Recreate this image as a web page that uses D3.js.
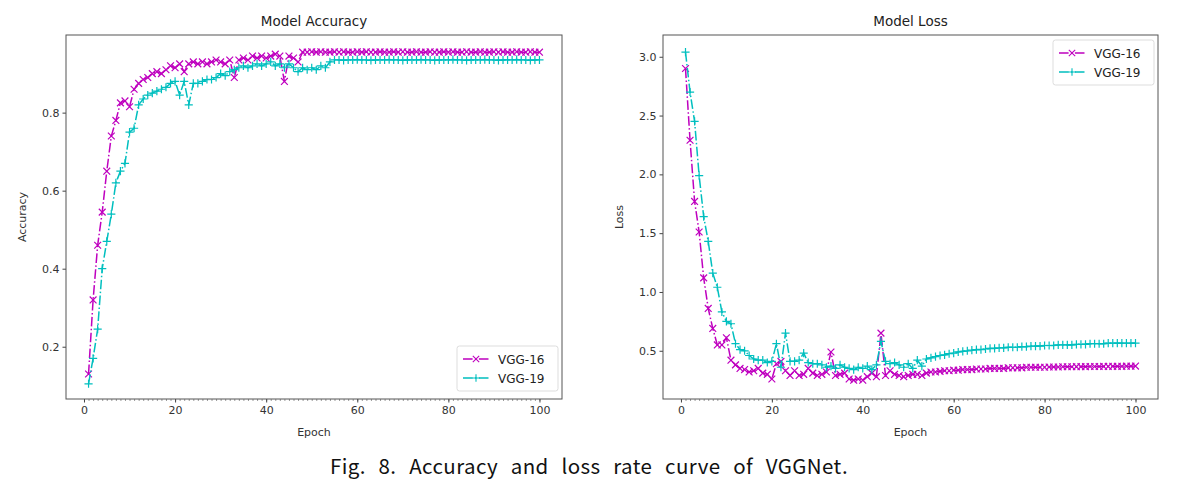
<!DOCTYPE html>
<html><head><meta charset="utf-8">
<script src="https://cdn.jsdelivr.net/npm/d3@7"></script>
<style>body{margin:0;background:#fff}svg{display:block}</style>
</head><body>
<svg id="chart" width="1179" height="485"></svg>
<script>
const epochs = d3.range(1, 101);
const seriesNames = ["VGG-16", "VGG-19"];
const accVGG16 = [0.13,0.32,0.46,0.545,0.65,0.74,0.78,0.825,0.83,0.815,
0.86,0.875,0.885,0.89,0.9,0.905,0.9,0.91,0.92,0.915,
0.925,0.905,0.925,0.93,0.925,0.93,0.925,0.93,0.935,0.93,
0.925,0.935,0.89,0.935,0.94,0.935,0.945,0.94,0.945,0.94,
0.945,0.95,0.945,0.88,0.945,0.94,0.93,0.955,0.955,0.956,
0.955,0.956,0.955,0.955,0.956,0.955,0.956,0.955,0.955,0.956,
0.955,0.956,0.955,0.955,0.956,0.955,0.955,0.956,0.955,0.956,
0.955,0.955,0.956,0.955,0.955,0.956,0.955,0.955,0.956,0.955,
0.956,0.955,0.955,0.956,0.955,0.955,0.956,0.955,0.955,0.956,
0.955,0.956,0.955,0.955,0.956,0.955,0.955,0.956,0.955,0.955];
const accVGG19 = [0.105,0.17,0.245,0.4,0.47,0.54,0.62,0.65,0.67,0.75,
0.76,0.82,0.835,0.845,0.85,0.855,0.86,0.865,0.875,0.88,
0.845,0.88,0.82,0.875,0.875,0.88,0.885,0.885,0.89,0.9,
0.895,0.905,0.91,0.915,0.92,0.915,0.92,0.925,0.92,0.925,
0.93,0.92,0.925,0.915,0.925,0.915,0.905,0.915,0.91,0.915,
0.91,0.92,0.915,0.93,0.935,0.935,0.934,0.935,0.935,0.936,
0.935,0.935,0.934,0.935,0.935,0.935,0.936,0.935,0.935,0.934,
0.935,0.935,0.935,0.936,0.935,0.935,0.934,0.935,0.935,0.935,
0.936,0.935,0.935,0.934,0.935,0.935,0.935,0.936,0.935,0.935,
0.934,0.935,0.935,0.935,0.936,0.935,0.935,0.934,0.935,0.935];
const lossVGG16 = [2.9,2.29,1.77,1.51,1.12,0.86,0.69,0.55,0.55,0.61,
0.42,0.38,0.35,0.34,0.32,0.33,0.35,0.31,0.3,0.26,
0.39,0.41,0.33,0.29,0.33,0.29,0.3,0.35,0.31,0.29,
0.3,0.32,0.49,0.29,0.3,0.31,0.26,0.25,0.26,0.25,
0.28,0.31,0.28,0.65,0.29,0.33,0.3,0.29,0.28,0.29,
0.3,0.3,0.29,0.31,0.32,0.32,0.325,0.33,0.33,0.335,
0.335,0.34,0.34,0.34,0.345,0.345,0.345,0.35,0.35,0.35,
0.35,0.355,0.355,0.355,0.355,0.36,0.36,0.36,0.36,0.36,
0.362,0.362,0.362,0.364,0.364,0.364,0.365,0.365,0.365,0.366,
0.366,0.366,0.367,0.367,0.368,0.368,0.368,0.369,0.369,0.37];
const lossVGG19 = [3.04,2.7,2.45,1.99,1.64,1.43,1.16,1.04,0.83,0.75,
0.73,0.56,0.51,0.5,0.46,0.43,0.42,0.42,0.4,0.41,
0.56,0.36,0.65,0.41,0.41,0.42,0.48,0.4,0.39,0.39,
0.38,0.36,0.37,0.35,0.38,0.36,0.35,0.34,0.36,0.35,
0.37,0.34,0.38,0.58,0.41,0.39,0.4,0.38,0.36,0.39,
0.35,0.42,0.37,0.43,0.44,0.45,0.46,0.465,0.475,0.48,
0.49,0.495,0.5,0.505,0.51,0.51,0.515,0.52,0.52,0.525,
0.525,0.53,0.53,0.53,0.535,0.535,0.54,0.54,0.54,0.545,
0.545,0.545,0.55,0.55,0.55,0.55,0.555,0.555,0.555,0.56,
0.56,0.56,0.56,0.565,0.565,0.565,0.565,0.565,0.565,0.565];
const xTicks = [0, 20, 40, 60, 80, 100];
const accTicks = [0.2, 0.4, 0.6, 0.8];
const lossTicks = [0.5, 1.0, 1.5, 2.0, 2.5, 3.0];
const caption = "Fig. 8. Accuracy and loss rate curve of VGGNet.";

const colors = {"VGG-16": "#bf00bf", "VGG-19": "#00bfbf"};
const markers = {"VGG-16": "x", "VGG-19": "+"};
const FONT = "DejaVu Sans, sans-serif";
const svg = d3.select("#chart");

function markerPath(type, s) {
  if (type === "x") return `M${-s},${-s}L${s},${s}M${-s},${s}L${s},${-s}`;
  return `M${-s*1.2},0L${s*1.2},0M0,${-s*1.2}L0,${s*1.2}`;
}

function panel(opts) {
  const {left, top, width, height, yDomain, yTicks, yFmt, title, ylabel, series, legendPos} = opts;
  const g = svg.append("g").attr("transform", `translate(${left},${top})`);
  const x = d3.scaleLinear().domain([-3.95, 104.95]).range([0, width]);
  const y = d3.scaleLinear().domain(yDomain).range([height, 0]);

  g.append("g").attr("transform", `translate(0,${height})`)
    .call(d3.axisBottom(x).tickValues(d3.range(0, 101)).tickSize(2).tickFormat(""))
    .call(a => a.select(".domain").remove())
    .selectAll("line").attr("stroke", "#555").attr("stroke-width", 0.6);
  const xa = g.append("g").attr("transform", `translate(0,${height})`)
    .call(d3.axisBottom(x).tickValues(xTicks).tickSize(3.5).tickPadding(4).tickFormat(d3.format("d")));
  xa.select(".domain").remove();
  xa.selectAll("line").attr("stroke", "#444");
  xa.selectAll("text").attr("font-family", FONT).attr("font-size", 11).attr("fill", "#333");

  const ya = g.append("g")
    .call(d3.axisLeft(y).tickValues(yTicks).tickSize(3.5).tickPadding(3).tickFormat(yFmt));
  ya.select(".domain").remove();
  ya.selectAll("line").attr("stroke", "#444");
  ya.selectAll("text").attr("font-family", FONT).attr("font-size", 11).attr("fill", "#333");

  const clipId = "clip" + left;
  g.append("clipPath").attr("id", clipId).append("rect").attr("width", width).attr("height", height);
  const plot = g.append("g").attr("clip-path", `url(#${clipId})`);

  series.forEach(s => {
    const line = d3.line().x((d, i) => x(epochs[i])).y(d => y(d));
    plot.append("path").datum(s.values)
      .attr("d", line).attr("fill", "none")
      .attr("stroke", colors[s.name]).attr("stroke-width", 1.5)
      .attr("stroke-dasharray", "9.6,2.4,1.5,2.4");
    plot.append("g").selectAll("path").data(s.values).join("path")
      .attr("transform", (d, i) => `translate(${x(epochs[i])},${y(d)})`)
      .attr("d", markerPath(markers[s.name], 3.4))
      .attr("stroke", colors[s.name]).attr("stroke-width", 1.2).attr("fill", "none");
  });

  g.append("rect").attr("width", width).attr("height", height)
    .attr("fill", "none").attr("stroke", "#555").attr("stroke-width", 1);

  g.append("text").attr("x", width / 2).attr("y", -9).attr("text-anchor", "middle")
    .attr("font-family", FONT).attr("font-size", 13.5).attr("fill", "#222").text(title);
  g.append("text").attr("x", width / 2).attr("y", height + 37).attr("text-anchor", "middle")
    .attr("font-family", FONT).attr("font-size", 11).attr("fill", "#333").text("Epoch");
  g.append("text").attr("transform", `translate(${-40},${height / 2}) rotate(-90)`)
    .attr("text-anchor", "middle")
    .attr("font-family", FONT).attr("font-size", 11).attr("fill", "#333").text(ylabel);

  const lg = g.append("g").attr("transform", `translate(${legendPos[0]},${legendPos[1]})`);
  lg.append("rect").attr("width", 101).attr("height", 45).attr("rx", 2.5)
    .attr("fill", "#fff").attr("fill-opacity", 0.8).attr("stroke", "#ddd");
  seriesNames.forEach((n, i) => {
    const yy = 13 + i * 19;
    lg.append("line").attr("x1", 6).attr("x2", 32).attr("y1", yy).attr("y2", yy)
      .attr("stroke", colors[n]).attr("stroke-width", 1.5).attr("stroke-dasharray", "9.6,2.4,1.5,2.4");
    lg.append("path").attr("transform", `translate(19,${yy})`).attr("d", markerPath(markers[n], 3.2))
      .attr("stroke", colors[n]).attr("stroke-width", 1.1).attr("fill", "none");
    lg.append("text").attr("x", 41).attr("y", yy + 4.5)
      .attr("font-family", FONT).attr("font-size", 12).attr("fill", "#222").text(n);
  });
}

panel({left: 66, top: 35, width: 496, height: 364, yDomain: [0.066, 0.999],
  yTicks: accTicks, yFmt: d3.format(".1f"), title: "Model Accuracy", ylabel: "Accuracy",
  series: [{name: "VGG-16", values: accVGG16}, {name: "VGG-19", values: accVGG19}],
  legendPos: [391, 311]});
panel({left: 663, top: 35, width: 495, height: 364, yDomain: [0.09, 3.185],
  yTicks: lossTicks, yFmt: d3.format(".1f"), title: "Model Loss", ylabel: "Loss",
  series: [{name: "VGG-16", values: lossVGG16}, {name: "VGG-19", values: lossVGG19}],
  legendPos: [390, 5]});

const cap = svg.append("text").attr("x", 330).attr("y", 474)
  .attr("font-family", "Noto Sans CJK KR, Noto Sans, sans-serif").attr("font-size", 20.5)
  .attr("letter-spacing", 0.4).attr("fill", "#111").text(caption);
const natural = cap.node().getComputedTextLength();
const gaps = caption.split(" ").length - 1;
cap.attr("word-spacing", Math.max(0, (518 - natural) / gaps));
</script>
</body></html>
